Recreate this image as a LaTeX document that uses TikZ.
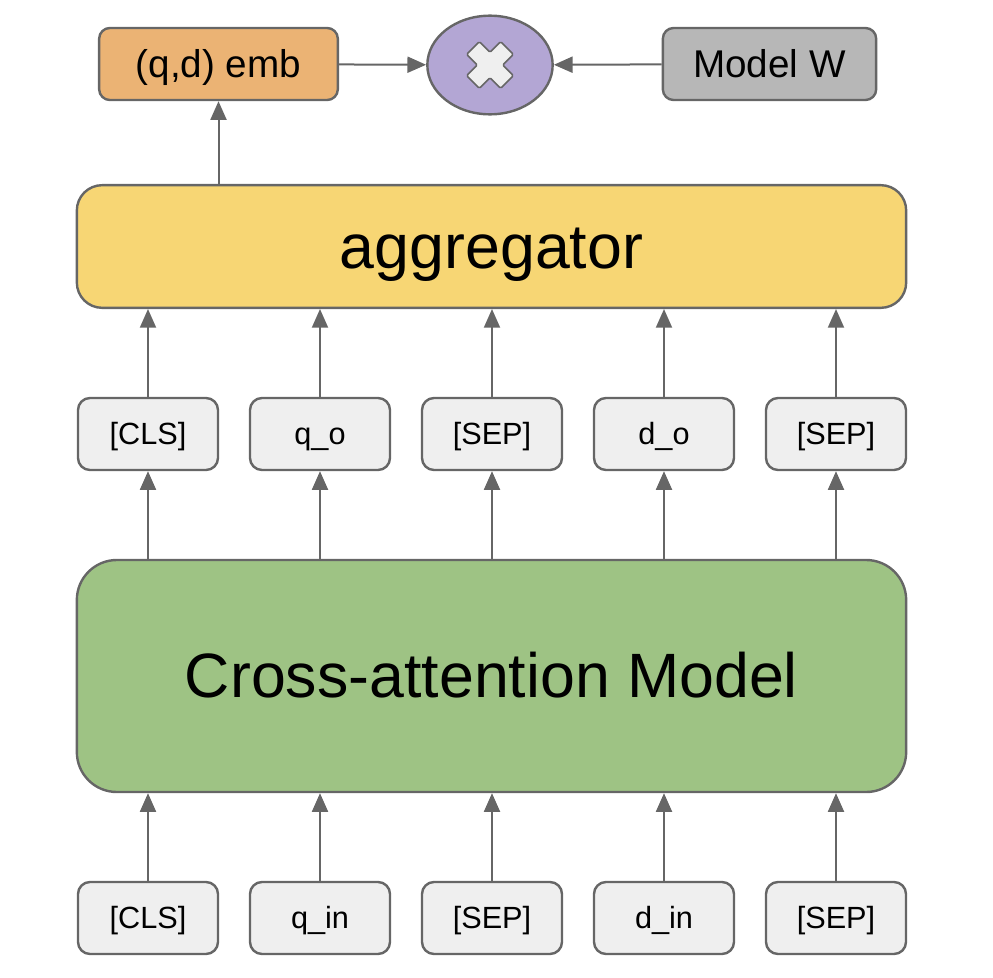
\documentclass[tikz,border=0pt]{standalone}
\usepackage{fontspec}
\setmainfont{Liberation Sans}
\usetikzlibrary{arrows.meta,shapes.geometric}
\definecolor{embfill}{HTML}{EBB374}
\definecolor{mulfill}{HTML}{B3A6D4}
\definecolor{wfill}{HTML}{B7B7B7}
\definecolor{aggfill}{HTML}{F7D674}
\definecolor{camfill}{HTML}{9EC384}
\definecolor{tokfill}{HTML}{EFEFEF}
\definecolor{edgegray}{HTML}{666666}
\tikzset{
  >={Triangle[length=14pt,width=12pt]},
  boxbase/.style={draw=edgegray,line width=1.8pt,inner sep=0pt},
  tokbox/.style={boxbase,fill=tokfill,rounded corners=9pt,
    minimum width=105pt,minimum height=54pt,
    text height=20.8pt,text depth=4.9pt,
    font=\fontsize{23}{27}\selectfont},
  topbox/.style={boxbase,rounded corners=8pt,minimum height=54pt,
    text height=26pt,text depth=6.1pt,
    font=\fontsize{29}{34}\selectfont},
  bigbox/.style={boxbase,minimum width=622pt,
    text height=42.5pt,text depth=10pt,
    font=\fontsize{47}{55}\selectfont},
  mulnode/.style={boxbase,ellipse,fill=mulfill,
    minimum width=94pt,minimum height=74pt},
  flow/.style={->,draw=edgegray,fill=edgegray,line width=1.5pt},
  crossmark/.style={draw=edgegray,fill=tokfill,line width=1.2pt,
    rounded corners=1pt,line join=round},
}

\begin{document}
\begin{tikzpicture}[x=0.75pt,y=-0.75pt]
  \useasboundingbox (0,0) rectangle (993,978);

  % top row
  \node[topbox,fill=embfill,minimum width=179pt] (emb) at (218.5,64) {(q,d) emb};
  \node[mulnode] (mul) at (490,65) {};
  \node[topbox,fill=wfill,minimum width=160pt] (modelw) at (769.5,64) {Model W};
  \draw[crossmark,shift={(mul.center)},rotate=45]
    (9,24) -- (9,9) -- (24,9) -- (24,-9) -- (9,-9) -- (9,-24)
    -- (-9,-24) -- (-9,-9) -- (-24,-9) -- (-24,9) -- (-9,9) -- (-9,24) -- cycle;
  \draw[flow] (emb) -- (mul);
  \draw[flow] (modelw) -- (mul);

  % big blocks
  \node[bigbox,fill=aggfill,minimum height=92pt,rounded corners=19pt]
    (agg) at (491.5,246.5) {aggregator};
  \node[bigbox,fill=camfill,minimum height=174pt,rounded corners=30pt]
    (cam) at (491.5,676) {Cross-attention Model};
  \draw[flow] (agg.north -| emb.south) -- (emb.south);

  % tokens
  \foreach \i/\x/\tin/\tout in {1/148/[CLS]/[CLS],2/320/q\_in/q\_o,
      3/492/[SEP]/[SEP],4/664/d\_in/d\_o,5/836/[SEP]/[SEP]} {
    \node[tokbox] (out\i) at (\x,434) {\tout};
    \node[tokbox] (in\i) at (\x,918) {\tin};
    \draw[flow] (out\i.north) -- (agg.south -| out\i.north);
    \draw[flow] (cam.north -| out\i.south) -- (out\i.south);
    \draw[flow] (in\i.north) -- (cam.south -| in\i.north);
  }
\end{tikzpicture}
\end{document}
